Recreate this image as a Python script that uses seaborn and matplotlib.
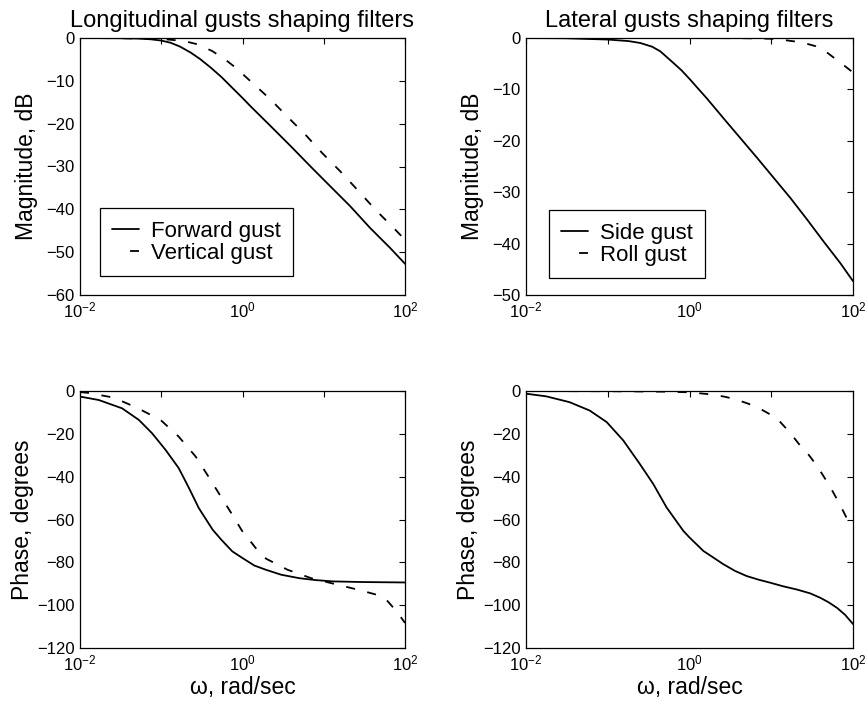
import numpy as np
import pandas as pd
import matplotlib
matplotlib.use("Agg")
import matplotlib.pyplot as plt
import seaborn as sns

# ---------------- data ----------------
# Longitudinal: forward gust (solid) magnitude, dB
fwd_mag_w = [0.01, 0.03, 0.05, 0.074, 0.1, 0.13, 0.17, 0.23, 0.3, 0.40, 0.55, 0.71, 1.0, 1.25, 2.2, 3.9, 6.8, 12, 21, 37, 65.5, 100]
fwd_mag_db = [0, -0.05, -0.12, -0.3, -0.6, -1.1, -2.0, -3.4, -4.9, -6.8, -9.1, -11.2, -14.0, -15.9, -20.5, -25.2, -29.9, -34.6, -39.2, -44.3, -49.0, -52.7]
# Longitudinal: vertical gust (dashed) magnitude, dB
vert_mag_w = [0.01, 0.03, 0.07, 0.12, 0.19, 0.27, 0.42, 0.6, 0.82, 1.38, 2.2, 3.5, 5.9, 9.5, 15.9, 26.7, 42.8, 72, 100]
vert_mag_db = [0, -0.05, -0.15, -0.35, -0.7, -1.4, -3.0, -4.9, -6.9, -10.8, -14.3, -18.2, -22.5, -26.8, -31.1, -35.7, -40.0, -44.3, -47.1]
# Lateral: side gust (solid) magnitude, dB
side_mag_w = [0.01, 0.03, 0.1, 0.18, 0.25, 0.35, 0.44, 0.64, 0.8, 1.02, 1.3, 1.62, 2.6, 4.2, 6.7, 10.7, 17.1, 27.4, 43.7, 70, 100]
side_mag_db = [0, -0.05, -0.3, -0.6, -0.97, -1.7, -2.6, -4.9, -6.3, -8.1, -10.0, -11.7, -15.6, -19.5, -23.3, -27.2, -31.1, -35.3, -39.6, -43.8, -47.3]
# Lateral: roll gust (dashed) magnitude, dB
roll_mag_w = [0.01, 1, 5, 10, 13, 20, 27, 35, 47, 62.5, 80, 100]
roll_mag_db = [0, 0, -0.05, -0.15, -0.3, -0.7, -1.1, -1.6, -2.7, -4.2, -5.5, -6.7]

# Phase, degrees
fwd_ph_w = [0.01, 0.017, 0.033, 0.053, 0.077, 0.113, 0.164, 0.22, 0.29, 0.43, 0.55, 0.75, 1.0, 1.4, 1.95, 3.0, 5, 8, 13, 30, 100]
fwd_ph_deg = [-2.6, -4.2, -8.1, -13.5, -19.7, -27.5, -36, -45.4, -54.7, -64.8, -69.5, -74.9, -78, -81.5, -83.5, -85.8, -87.4, -88.3, -88.9, -89.2, -89.4]
vert_ph_w = [0.01, 0.0127, 0.026, 0.05, 0.098, 0.164, 0.265, 0.37, 0.51, 0.75, 0.98, 1.46, 1.95, 3.6, 7.0, 15, 26.5, 44.6, 59, 79, 100]
vert_ph_deg = [-0.5, -0.9, -3.1, -7.8, -13.5, -21.3, -30.6, -39.2, -47.7, -57.8, -65.1, -73.4, -78.3, -83.5, -87.4, -90.5, -92.8, -95.1, -97.5, -102.9, -108.3]
side_ph_w = [0.01, 0.0177, 0.034, 0.060, 0.097, 0.155, 0.247, 0.36, 0.525, 0.84, 1.0, 1.48, 2.6, 3.6, 5.0, 7.0, 9.7, 14, 20.6, 30, 40, 50, 64, 80, 100]
side_ph_deg = [-1.25, -2.5, -5.2, -9.1, -14.5, -23.1, -34.1, -43.4, -54.4, -65.3, -68.4, -74.7, -80.9, -84.0, -86.4, -88.1, -89.5, -91.2, -92.7, -94.5, -96.6, -98.6, -101.3, -104.5, -108.8]
roll_ph_w = [0.01, 0.1, 0.48, 1.0, 1.96, 2.8, 3.8, 5.3, 7.3, 10, 12.9, 17, 22.6, 29, 36, 44, 53, 68, 85, 100]
roll_ph_deg = [-0.05, -0.1, -0.3, -0.6, -1.7, -2.8, -4.1, -6.0, -8.3, -11.2, -14.5, -19.5, -25.5, -30.0, -34.8, -40.0, -45, -52.5, -59.8, -63.8]

titles = ["Longitudinal gusts shaping filters", "Lateral gusts shaping filters"]
legend_labels = [["Forward gust", "Vertical gust"], ["Side gust", "Roll gust"]]
x_ticks = [1e-2, 1e-1, 1e0, 1e1, 1e2]
x_tick_labels = ["$10^{-2}$", "", "$10^{0}$", "", "$10^{2}$"]
mag_ticks = [[0, -10, -20, -30, -40, -50, -60], [0, -10, -20, -30, -40, -50]]
phase_ticks = [0, -20, -40, -60, -80, -100, -120]

# ---------------- style ----------------
sns.set_theme(style="white")
plt.rcParams["font.family"] = ["Liberation Sans", "DejaVu Sans"]
plt.rcParams["mathtext.default"] = "regular"
plt.rcParams["text.color"] = "black"
plt.rcParams["axes.labelcolor"] = "black"
plt.rcParams["xtick.color"] = "black"
plt.rcParams["ytick.color"] = "black"
plt.rcParams["axes.edgecolor"] = "black"
plt.rcParams["axes.linewidth"] = 0.9
plt.rcParams["xtick.direction"] = "in"
plt.rcParams["ytick.direction"] = "in"

fig = plt.figure(figsize=(8.67, 7.08), dpi=100)
W, H = 867, 708
col_x = [(80, 405), (526, 853)]
row_y = [(38, 295), (391, 648)]

def make_ax(c, r):
    x0, x1 = col_x[c]
    y0, y1 = row_y[r]
    return fig.add_axes([x0 / W, 1 - y1 / H, (x1 - x0) / W, (y1 - y0) / H])

series = {
    (0, 0): [(fwd_mag_w, fwd_mag_db), (vert_mag_w, vert_mag_db)],
    (1, 0): [(side_mag_w, side_mag_db), (roll_mag_w, roll_mag_db)],
    (0, 1): [(fwd_ph_w, fwd_ph_deg), (vert_ph_w, vert_ph_deg)],
    (1, 1): [(side_ph_w, side_ph_deg), (roll_ph_w, roll_ph_deg)],
}

lw = 1.3
dash = (5, 7)
for (c, r), pair in series.items():
    ax = make_ax(c, r)
    for i, (w, v) in enumerate(pair):
        df = pd.DataFrame({"w": w, "v": v})
        sns.lineplot(data=df, x="w", y="v", ax=ax, color="black", linewidth=lw,
                     label=legend_labels[c][i] if r == 0 else None, legend=False)
        if i == 1:
            ax.lines[-1].set_dashes(dash)
    ax.set_xscale("log")
    ax.set_xlim(1e-2, 1e2)
    ax.set_xticks(x_ticks)
    ax.set_xticklabels(x_tick_labels)
    ax.xaxis.set_minor_locator(matplotlib.ticker.NullLocator())
    ax.tick_params(axis="both", which="major", direction="in", length=4, width=0.8,
                   top=True, right=True, labelsize=12, pad=4, colors="black")
    for sp in ax.spines.values():
        sp.set_visible(True)
        sp.set_color("black")
        sp.set_linewidth(0.9)
    if r == 0:
        yt = mag_ticks[c]
        ax.set_ylim(yt[-1], 0)
        ax.set_yticks(yt)
        ax.set_ylabel("Magnitude, dB", fontsize=16.5, labelpad=6)
        ax.set_xlabel("")
        ax.set_title(titles[c], fontsize=17, pad=8)
        leg_anchor = (0.062, 0.074) if c == 0 else (0.07, 0.066)
        leg = ax.legend(loc="lower left", bbox_to_anchor=leg_anchor, borderaxespad=0,
                        fontsize=16, frameon=True, fancybox=False, edgecolor="black",
                        framealpha=1, handlelength=1.2, handletextpad=0.55,
                        borderpad=0.55, labelspacing=0.05)
        leg.get_frame().set_linewidth(0.9)
        hl = leg.legend_handles if hasattr(leg, "legend_handles") else leg.legendHandles
        hl[1].set_linestyle((15.0, (5, 20)))
    else:
        ax.set_ylim(-120, 0)
        ax.set_yticks(phase_ticks)
        ax.set_ylabel("Phase, degrees", fontsize=16.5, labelpad=2)
        ax.set_xlabel("ω, rad/sec", fontsize=16.5, labelpad=2)

fig.savefig("out.png", dpi=100)
